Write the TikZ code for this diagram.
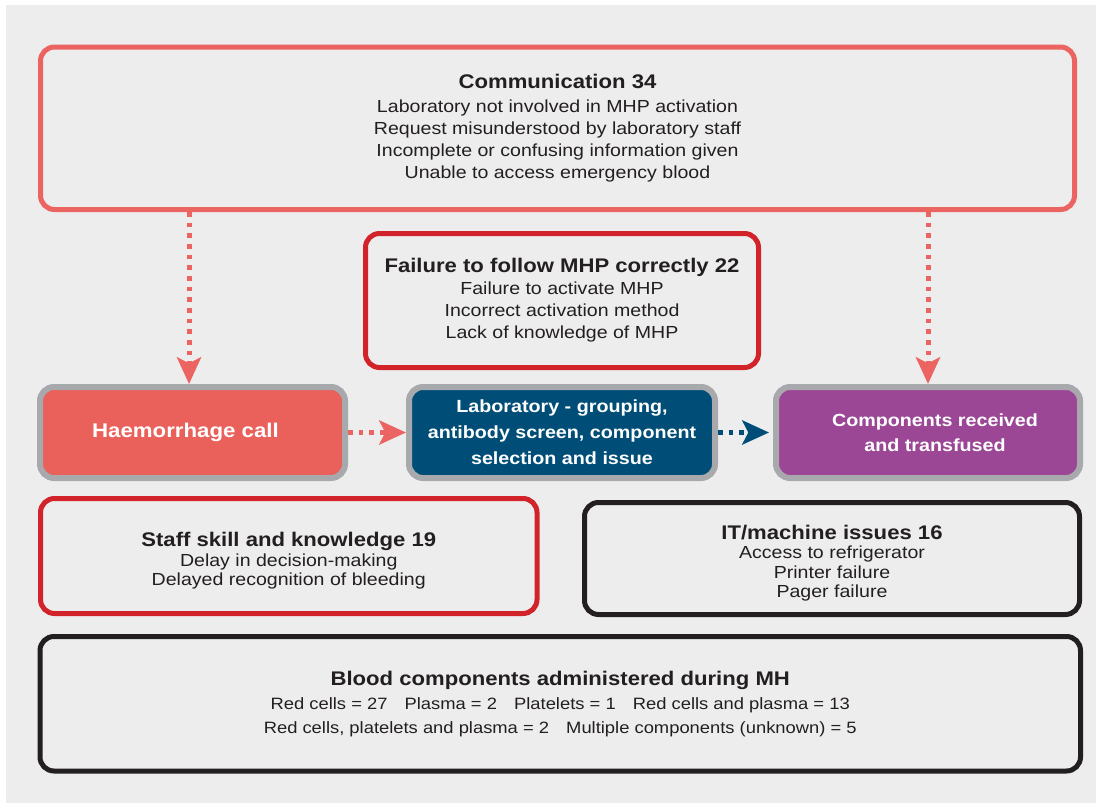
\documentclass[tikz,border=0pt]{standalone}
\usepackage{fontspec}
\setmainfont{Liberation Sans}[FakeStretch=1.12]
\usetikzlibrary{arrows.meta}

\definecolor{panel}{HTML}{EDEDED}
\definecolor{commred}{HTML}{EC6461}
\definecolor{deepred}{HTML}{D2232A}
\definecolor{ink}{HTML}{231F20}
\definecolor{steel}{HTML}{A7A9AC}
\definecolor{haemfill}{HTML}{EA605B}
\definecolor{labfill}{HTML}{004E78}
\definecolor{compfill}{HTML}{9B4796}

% fonts for the text boxes
\newcommand{\headfont}{\bfseries\fontsize{14.8}{16.5}\selectfont}

\begin{document}
\begin{tikzpicture}[x=0.75pt,y=-0.75pt,
  infobox/.style={draw, rounded corners=10.5pt, line width=3.75pt,
    text=ink, align=center, inner sep=0pt},
  stagebox/.style={draw=steel, rounded corners=10.5pt, line width=4.5pt,
    text=white, align=center, inner sep=0pt,
    minimum height=91*0.75pt},
  flow/.style={line width=3.75pt, dash pattern=on 3.4pt off 4.6pt,
    -{Stealth[length=20pt,width=18pt,inset=4.5pt]}},
]
\useasboundingbox (0,0) rectangle (1096,803);
\fill[panel] (6,5) rectangle (1096,803);

% contributory-factor boxes
\node[infobox, draw=commred, minimum width=1034*0.75pt, minimum height=162.5*0.75pt,
      font=\fontsize{13.1}{16.5}\selectfont] (comm) at (557.5,128.25)
  {{\headfont Communication 34}\\[1.5pt]
   Laboratory not involved in MHP activation\\
   Request misunderstood by laboratory staff\\
   Incomplete or confusing information given\\
   Unable to access emergency blood};

\node[infobox, draw=deepred, minimum width=393*0.75pt, minimum height=134*0.75pt,
      font=\fontsize{13.1}{16.5}\selectfont] (fail) at (562,300.5)
  {{\headfont Failure to follow MHP correctly 22}\\
   Failure to activate MHP\\
   Incorrect activation method\\
   Lack of knowledge of MHP};

% process stages
\node[stagebox, fill=haemfill, minimum width=305*0.75pt,
      font=\bfseries\fontsize{14.9}{19}\selectfont] (haem) at (192.5,432.5)
  {Haemorrhage call\hspace*{10.5pt}};
\node[stagebox, fill=labfill, minimum width=306*0.75pt,
      font=\bfseries\fontsize{13.2}{19.5}\selectfont] (lab) at (562,432.5)
  {Laboratory - grouping,\\antibody screen, component\\selection and issue};
\node[stagebox, fill=compfill, minimum width=304*0.75pt,
      font=\bfseries\fontsize{13.2}{18.75}\selectfont] (comp) at (928,432.5)
  {\hspace*{10.5pt}Components received\\\hspace*{10.5pt}and transfused};

\node[infobox, draw=deepred, minimum width=496.5*0.75pt, minimum height=115*0.75pt,
      font=\fontsize{13.1}{14.8}\selectfont] (staff) at (288.75,556)
  {\rule{0pt}{18pt}{\headfont Staff skill and knowledge 19}\\
   Delay in decision-making\\
   Delayed recognition of bleeding};

\node[infobox, draw=ink, minimum width=495*0.75pt, minimum height=112*0.75pt,
      font=\fontsize{13.1}{14.6}\selectfont] (it) at (832,558.5)
  {\rule{0pt}{18pt}{\headfont IT/machine issues 16}\\
   Access to refrigerator\\
   Printer failure\\
   Pager failure};

\node[infobox, draw=ink, minimum width=1040.5*0.75pt, minimum height=134.5*0.75pt,
      font=\fontsize{12.3}{17.4}\selectfont] (blood) at (560.25,703.75)
  {{\headfont Blood components administered during MH}\\[1pt]
   Red cells = 27\hspace{9pt} Plasma = 2\hspace{9pt} Platelets = 1\hspace{9pt} Red cells and plasma = 13\\
   Red cells, platelets and plasma = 2\hspace{9pt} Multiple components (unknown) = 5};

% connectors
\coordinate (haemin) at ([xshift=-2.6pt]haem.north);
\draw[flow, commred] (comm.south -| haemin) -- (haemin);
\draw[flow, commred] (comm.south -| comp.north) -- (comp.north);
\draw[flow, commred] (haem.east) -- (lab.west);
\draw[flow, labfill, shorten >=3pt] (lab.east) -- (comp.west);
\end{tikzpicture}
\end{document}
